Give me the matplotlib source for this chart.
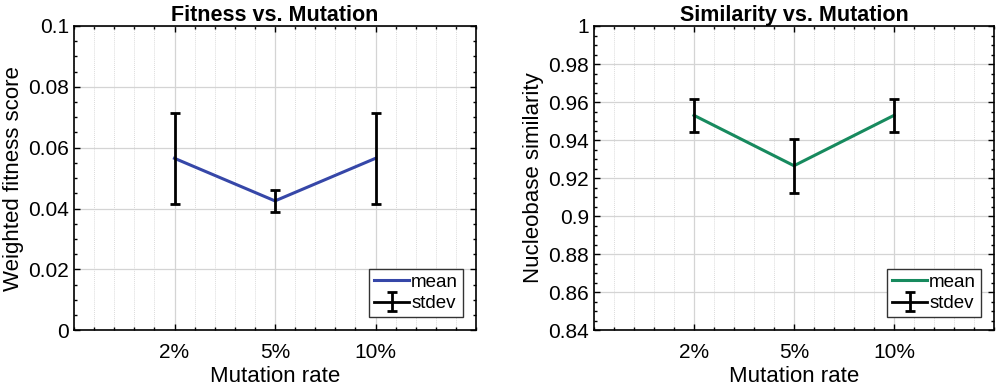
import matplotlib
matplotlib.use("Agg")
import matplotlib.pyplot as plt
from matplotlib.lines import Line2D
from matplotlib.legend_handler import HandlerTuple
from matplotlib.ticker import MultipleLocator

plt.rcParams['font.family'] = ['Liberation Sans', 'DejaVu Sans']

# data
rates = ['2%', '5%', '10%']
fitness_mean = [0.0565, 0.0425, 0.0565]
fitness_std = [0.0150, 0.0037, 0.0150]
similarity_mean = [0.953, 0.9265, 0.953]
similarity_std = [0.0088, 0.0143, 0.0088]

fitness_ticks = [0, 0.02, 0.04, 0.06, 0.08, 0.1]
fitness_labels = ['0', '0.02', '0.04', '0.06', '0.08', '0.1']
similarity_ticks = [0.84, 0.86, 0.88, 0.9, 0.92, 0.94, 0.96, 0.98, 1.0]
similarity_labels = ['0.84', '0.86', '0.88', '0.9', '0.92', '0.94', '0.96', '0.98', '1']

blue = '#3647a8'
green = '#178a5e'

fig = plt.figure(figsize=(10, 3.88), dpi=100)
ax1 = fig.add_axes([0.074, 0.149, 0.402, 0.784])
ax2 = fig.add_axes([0.594, 0.149, 0.400, 0.784])


def draw(ax, mean, std, color, yticks, ylabels, ylabel, title):
    x = list(range(1, len(rates) + 1))
    line, = ax.plot(x, mean, color=color, lw=2.2, zorder=3)
    eb = ax.errorbar(x, mean, yerr=std, fmt='none', ecolor='black', elinewidth=2,
                     capsize=3.5, capthick=2, zorder=4)
    ax.set_xlim(0, 4)
    ax.set_ylim(yticks[0], yticks[-1])
    ax.set_xticks(x)
    ax.set_xticklabels(rates)
    ax.set_yticks(yticks)
    ax.set_yticklabels(ylabels)
    ax.xaxis.set_minor_locator(MultipleLocator(0.2))
    ax.yaxis.set_minor_locator(MultipleLocator(0.005))
    ax.grid(which='major', color='#d4d4d4', lw=0.9)
    ax.grid(which='minor', axis='x', color='#dcdcdc', lw=0.7, ls=(0, (1, 1)))
    ax.tick_params(which='both', direction='in', top=True, right=True,
                   labelsize=15, width=1)
    ax.tick_params(which='major', length=4)
    ax.tick_params(which='minor', length=2.5)
    ax.tick_params(axis='x', which='major', pad=9)
    for s in ax.spines.values():
        s.set_linewidth(1.2)
    ax.set_xlabel('Mutation rate', fontsize=16, labelpad=3)
    ax.set_ylabel(ylabel, fontsize=16, labelpad=3)
    ax.set_title(title, fontsize=15.5, fontweight='bold', pad=2)
    bar_line = Line2D([], [], color='black', lw=2)
    leg = ax.legend([line, (bar_line, eb)], ['mean', 'stdev'],
                    handler_map={tuple: HandlerTuple(ndivide=1)},
                    loc='lower right', fontsize=13.5, fancybox=False,
                    edgecolor='#333333', framealpha=1, handlelength=1.9,
                    handletextpad=0.1, borderpad=0.25, labelspacing=0.25,
                    borderaxespad=0.7)
    leg.get_frame().set_linewidth(1.0)


draw(ax1, fitness_mean, fitness_std, blue, fitness_ticks, fitness_labels,
     'Weighted fitness score', 'Fitness vs. Mutation')
draw(ax2, similarity_mean, similarity_std, green, similarity_ticks, similarity_labels,
     'Nucleobase similarity', 'Similarity vs. Mutation')

fig.savefig('out.png', dpi=100)
